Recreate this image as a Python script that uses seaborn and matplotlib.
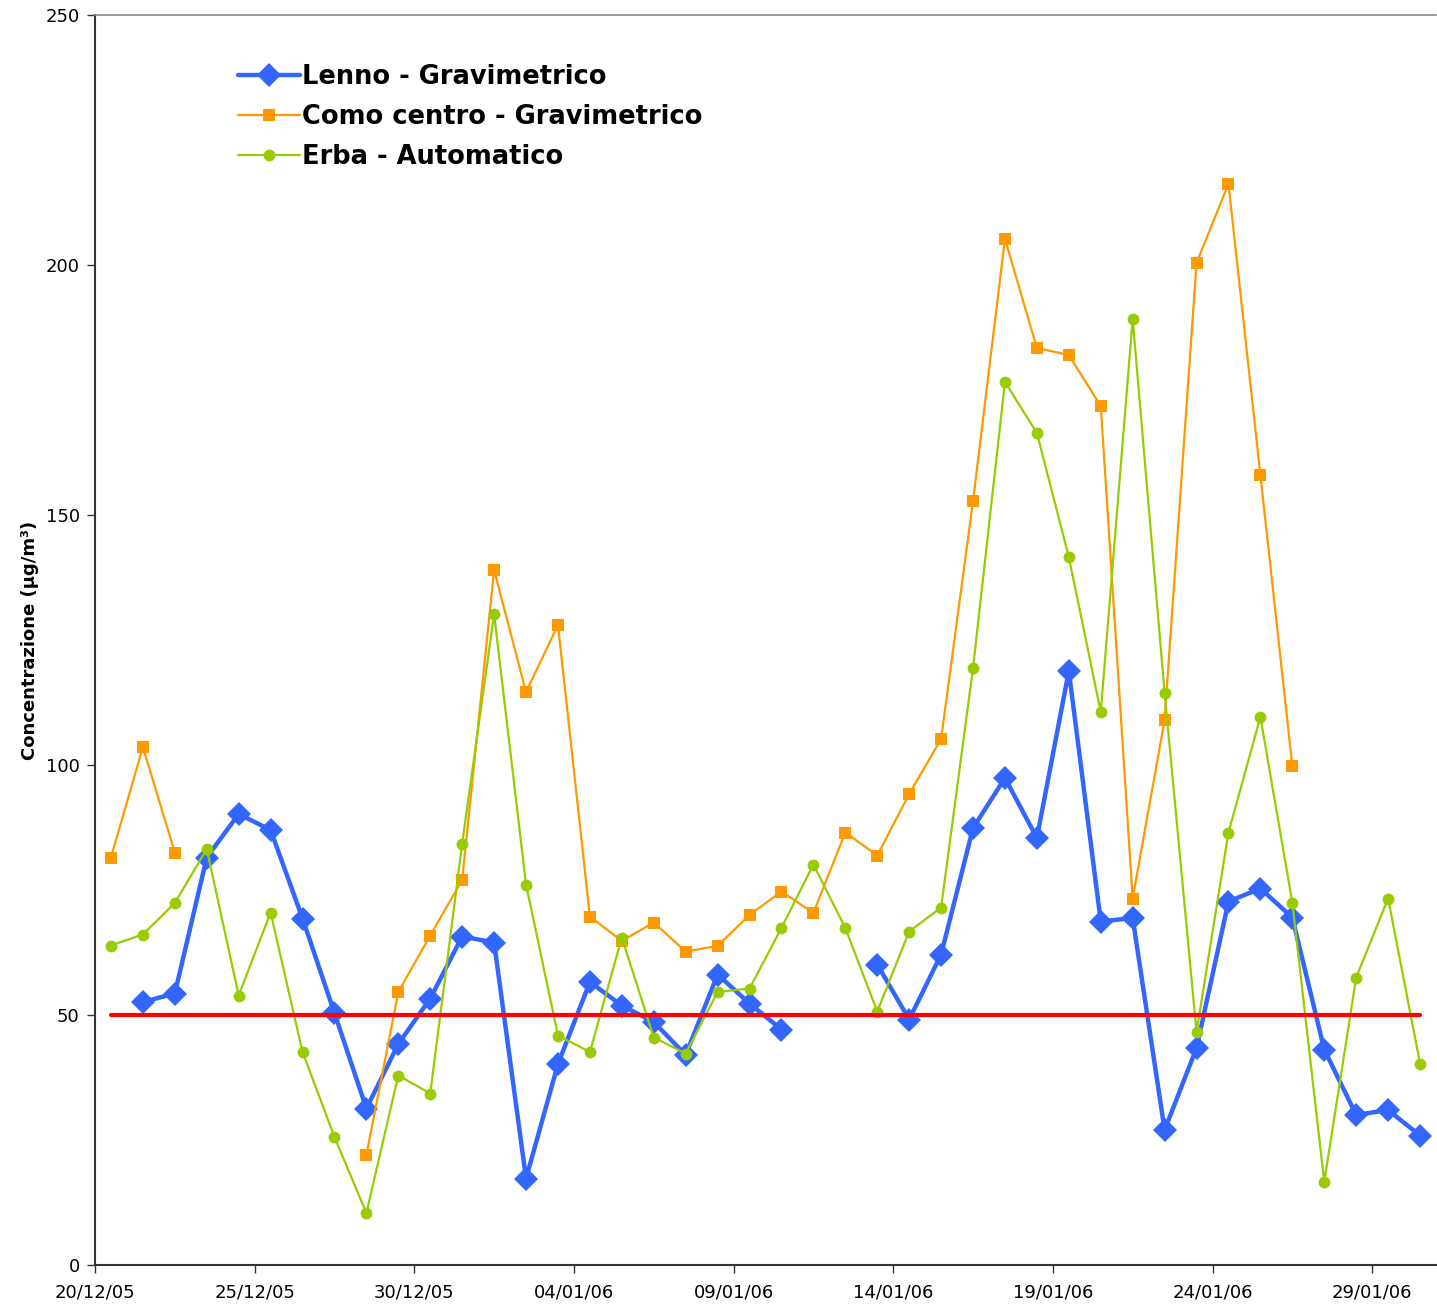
import numpy as np
import pandas as pd
import matplotlib
matplotlib.use("Agg")
import matplotlib.pyplot as plt
import matplotlib.dates as mdates
from matplotlib.lines import Line2D
import seaborn as sns

# ---- data ----
start_day = "2005-12-20"
n_days = 42
nan = np.nan
lenno = [nan, 52.6, 54.3, 81.5, 90.2, 87.0, 69.3, 50.4, 31.3, 44.2,
         53.3, 65.7, 64.5, 17.3, 40.2, 56.6, 51.9, 48.6, 42.0, 58.1,
         52.3, 47.1, nan, nan, 60.1, 49.1, 62.1, 87.4, 97.4, 85.4,
         118.8, 68.7, 69.4, 27.0, 43.4, 72.7, 75.3, 69.5, 43.1, 30.0,
         31.0, 25.9]
como = [81.5, 103.6, 82.5, nan, nan, nan, nan, nan, 22.0, 54.6,
        65.9, 77.0, 139.0, 114.6, 128.0, 69.7, 64.8, 68.5, 62.7, 63.8,
        70.0, 74.7, 70.4, 86.5, 81.9, 94.2, 105.2, 152.8, 205.2, 183.4,
        182.0, 171.8, 73.3, 109.0, 200.4, 216.2, 158.0, 99.8, nan, nan,
        nan, nan]
erba = [63.9, 66.1, 72.4, 83.2, 53.9, 70.5, 42.6, 25.6, 10.4, 37.9,
        34.3, 84.3, 130.2, 76.1, 45.9, 42.6, 65.5, 45.5, 42.3, 54.6,
        55.3, 67.4, 80.1, 67.4, 50.7, 66.7, 71.5, 119.4, 176.6, 166.4,
        141.6, 110.6, 189.2, 114.4, 46.6, 86.5, 109.6, 72.5, 16.6, 57.5,
        73.3, 40.3]
limit_value = [50.0] * n_days

series_names = ["Lenno - Gravimetrico", "Como centro - Gravimetrico", "Erba - Automatico"]
series_values = [lenno, como, erba]
series_colors = ["#3366FF", "#FF9900", "#99CC00"]
series_markers = ["D", "s", "o"]
series_ms = [12.5, 8.5, 8.5]
series_lw = [3.2, 1.6, 1.6]

dates = pd.date_range(start_day, periods=n_days, freq="D") + pd.Timedelta(hours=12)

def to_df(vals):
    v = np.array(vals, dtype=float)
    ok = ~np.isnan(v)
    seg = np.cumsum(~ok)  # new segment after each gap
    df = pd.DataFrame({"date": dates, "val": v, "seg": seg})
    return df[ok]

sns.set_theme(style="white")
plt.rcParams["font.family"] = ["DejaVu Sans"]
plt.rcParams["text.color"] = "black"
plt.rcParams["axes.labelcolor"] = "black"
plt.rcParams["xtick.color"] = "black"
plt.rcParams["ytick.color"] = "black"

fig = plt.figure(figsize=(14.37, 13.08), dpi=100)
ax = fig.add_axes([95 / 1437, 43 / 1308, 1341 / 1437, 1250 / 1308])

handles = []
for name, vals, col, mk, ms, lw in zip(series_names, series_values, series_colors,
                                        series_markers, series_ms, series_lw):
    df = to_df(vals)
    sns.lineplot(data=df, x="date", y="val", units="seg", estimator=None,
                 color=col, marker=mk, markersize=ms, markeredgewidth=0,
                 linewidth=lw, ax=ax, legend=False)
    handles.append(Line2D([], [], color=col, marker=mk, markersize=ms,
                          markeredgewidth=0, linewidth=lw))

dfl = pd.DataFrame({"date": dates, "val": limit_value})
sns.lineplot(data=dfl, x="date", y="val", color="#FF0000", linewidth=3,
             ax=ax, legend=False)

ax.set_ylim(0, 250)
ax.set_yticks(np.arange(0, 251, 50))
x0 = pd.Timestamp(start_day)
ax.set_xlim(x0, x0 + pd.Timedelta(days=n_days))
ax.set_xticks(pd.date_range(start_day, periods=9, freq="5D"))
ax.xaxis.set_major_formatter(mdates.DateFormatter("%d/%m/%y"))

ax.tick_params(axis="both", direction="out", length=6, width=1, color="#333333",
               labelcolor="black", labelsize=13, left=True, bottom=True)
ax.tick_params(axis="x", pad=7)
ax.tick_params(axis="y", pad=5)
for s in ["left", "bottom"]:
    ax.spines[s].set_color("#333333")
    ax.spines[s].set_linewidth(1.5)
ax.spines["top"].set_color("#888888")
ax.spines["top"].set_linewidth(1.2)
ax.spines["right"].set_visible(False)

ax.set_xlabel("")
ax.set_ylabel("Concentrazione (µg/m³)", fontsize=13, fontweight="bold", color="black")
ax.yaxis.set_label_coords(-0.042, 0.5)

leg = ax.legend(handles, series_names, loc="upper left",
                bbox_to_anchor=(0.099, 0.969), frameon=False,
                prop={"size": 18.5, "weight": "bold"},
                handlelength=2.4, handletextpad=0.1, labelspacing=0.54,
                borderaxespad=0, labelcolor="black")

fig.savefig("out.png", dpi=100, facecolor="white")
